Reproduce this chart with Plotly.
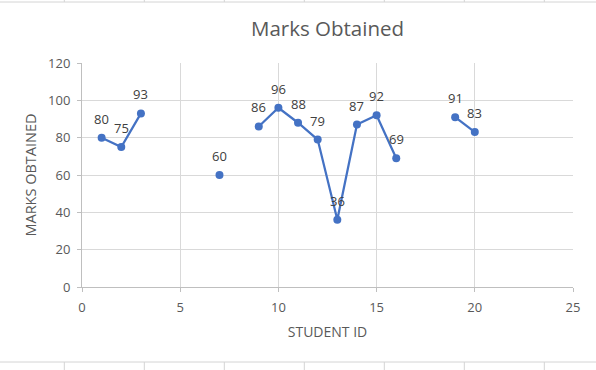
import plotly.graph_objects as go

student_id = list(range(1, 21))
marks = [80, 75, 93, None, None, None, 60, None, 86, 96, 88, 79, 36, 87, 92, 69, None, None, 91, 83]

x_ticks = [0, 5, 10, 15, 20, 25]
y_ticks = [0, 20, 40, 60, 80, 100, 120]

FONT = "Open Sans"
GRID = "#d9d9d9"
TXT = "#595959"

fig = go.Figure()
fig.add_trace(go.Scatter(
    x=student_id, y=marks,
    mode="lines+markers",
    line=dict(color="#4472C4", width=2.25),
    marker=dict(color="#4472C4", size=8),
    connectgaps=False, cliponaxis=False, showlegend=False,
))

annotations = [
    dict(x=sx, y=m, text=str(m), showarrow=False, xref="x", yref="y",
         yshift=19, font=dict(family=FONT, size=13, color="#404040"))
    for sx, m in zip(student_id, marks) if m is not None
]

# plot area in pixels: left 82, right 573, top 63, bottom 287
L, R, T, B = 82, 573, 63, 287
W, H = R - L, B - T
def px(x):
    return (x - L) / W
def py(y):
    return (B - y) / H

shapes = []
cell_col = "#d4d4d4"
for yy in (2, 362):
    shapes.append(dict(type="line", xref="paper", yref="paper", x0=px(0), x1=px(596), y0=py(yy), y1=py(yy),
                       line=dict(color=cell_col, width=1)))
for xx in (64.3, 144.3, 224.3, 304.3, 384.3, 464.3, 544.3):
    shapes.append(dict(type="line", xref="paper", yref="paper", x0=px(xx), x1=px(xx), y0=py(0), y1=py(2),
                       line=dict(color=cell_col, width=1)))
    shapes.append(dict(type="line", xref="paper", yref="paper", x0=px(xx), x1=px(xx), y0=py(362), y1=py(370),
                       line=dict(color=cell_col, width=1)))

fig.update_layout(
    width=596, height=370,
    margin=dict(l=L, r=596 - R, t=T, b=370 - B, autoexpand=False),
    paper_bgcolor="white", plot_bgcolor="white",
    font=dict(family=FONT, color=TXT, size=13),
    title=dict(text="Marks Obtained", x=0.5, xref="paper", xanchor="center",
               y=1 - 29 / 370, yanchor="middle",
               font=dict(family=FONT, size=20.5, color=TXT)),
    shapes=shapes,
    annotations=annotations,
    xaxis=dict(range=[0, 25], tickvals=x_ticks, showgrid=True, gridcolor=GRID, gridwidth=1,
               showline=True, linecolor="#bfbfbf", linewidth=1, zeroline=False,
               ticks="outside", ticklen=4, tickcolor="#bfbfbf", automargin=False,
               ticklabelstandoff=4,
               tickfont=dict(family=FONT, size=13, color=TXT),
               title=dict(text="STUDENT ID", font=dict(family=FONT, size=14, color=TXT), standoff=12)),
    yaxis=dict(range=[0, 120], tickvals=y_ticks, showgrid=True, gridcolor=GRID, gridwidth=1,
               showline=True, linecolor="#bfbfbf", linewidth=1, zeroline=False,
               ticks="outside", ticklen=4, tickcolor="#bfbfbf", automargin=False,
               ticklabelstandoff=4,
               tickfont=dict(family=FONT, size=13, color=TXT),
               title=dict(text="MARKS OBTAINED", font=dict(family=FONT, size=14.5, color=TXT), standoff=8)),
)

fig.write_html("out.html", config={"displayModeBar": False},
               post_script="document.body.style.margin='0';")
